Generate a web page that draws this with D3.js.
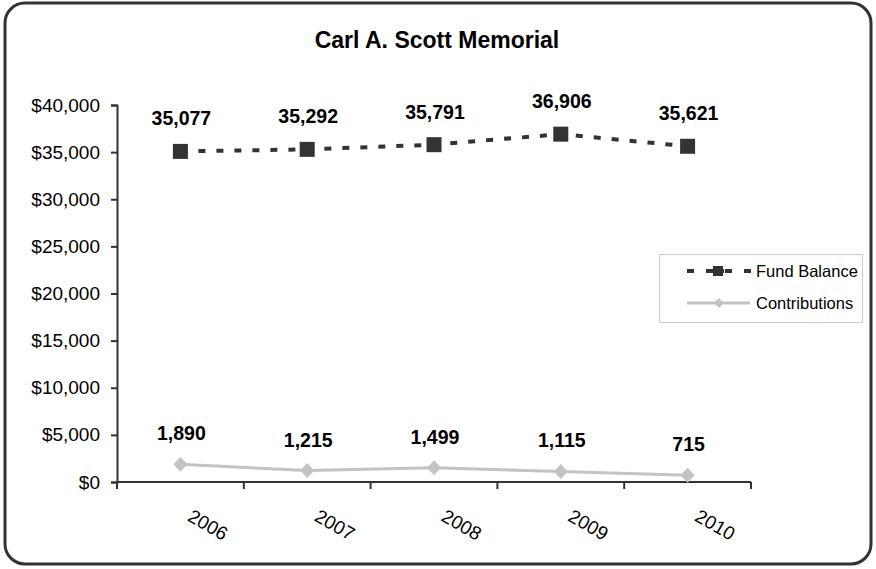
<!DOCTYPE html>
<html>
<head>
<meta charset="utf-8">
<script src="https://cdn.jsdelivr.net/npm/d3@7"></script>
<style>
  body { margin: 0; background: #fff; }
  text { font-family: "Liberation Sans", Arial, sans-serif; fill: #000; }
</style>
</head>
<body>
<script>
var years = ["2006", "2007", "2008", "2009", "2010"];
var fundBalance = [35077, 35292, 35791, 36906, 35621];
var contributions = [1890, 1215, 1499, 1115, 715];
var yTicks = [0, 5000, 10000, 15000, 20000, 25000, 30000, 35000, 40000];

var w = 876, h = 569;
var margin = {top: 105, right: 125, bottom: 87, left: 117};

var svg = d3.select('body').append('svg')
    .attr('width', w)
    .attr('height', h);

// outer rounded frame
svg.append('rect')
    .attr('x', 5).attr('y', 3)
    .attr('width', 866).attr('height', 561)
    .attr('rx', 20).attr('ry', 20)
    .attr('fill', '#fff')
    .attr('stroke', '#333')
    .attr('stroke-width', 3);

svg.append('text')
    .attr('x', 437).attr('y', 48)
    .attr('text-anchor', 'middle')
    .style('font-size', '23px')
    .style('font-weight', 'bold')
    .text('Carl A. Scott Memorial');

var g = svg.append('g')
    .attr('transform', 'translate(' + margin.left + ',' + margin.top + ')');

var pw = 751 - margin.left;
var ph = 482 - margin.top;

var xScale = d3.scaleBand().domain(years).range([0, pw]);
var yScale = d3.scaleLinear().domain([0, 40000]).range([ph, 0]);

// Y-axis
var yAxis = d3.axisLeft(yScale)
    .tickValues(yTicks)
    .tickSize(6)
    .tickFormat(function (d) { return '$' + d3.format(',')(d); });

var ya = g.append('g').call(yAxis);
ya.select('.domain').attr('stroke', '#333').attr('stroke-width', 2);
ya.selectAll('.tick line').attr('stroke', '#333').attr('stroke-width', 2);
ya.selectAll('.tick text')
    .attr('x', -17)
    .style('font-size', '19px')
    .style('font-family', '"Liberation Sans", Arial, sans-serif')
    .attr('fill', '#000');

// X-axis: ticks on band boundaries
var xa = g.append('g').attr('transform', 'translate(0,' + ph + ')');
xa.append('line')
    .attr('x1', 0).attr('x2', pw)
    .attr('stroke', '#333').attr('stroke-width', 2);
xa.selectAll('.xt')
    .data(d3.range(years.length + 1))
    .enter().append('line')
    .attr('x1', function (i) { return i * xScale.step(); })
    .attr('x2', function (i) { return i * xScale.step(); })
    .attr('y1', 0).attr('y2', 7)
    .attr('stroke', '#333').attr('stroke-width', 2);
xa.selectAll('.xl')
    .data(years)
    .enter().append('text')
    .attr('transform', function (d) {
        var x = xScale(d) + xScale.bandwidth() / 2 + 6;
        return 'translate(' + x + ',38) rotate(30)';
    })
    .style('font-size', '19px')
    .text(function (d) { return d; });

function cx(d, i) { return xScale(years[i]) + xScale.bandwidth() / 2; }

var line = d3.line()
    .x(function (d, i) { return cx(d, i); })
    .y(function (d) { return yScale(d); });

// Fund Balance
g.append('path')
    .datum(fundBalance)
    .attr('d', line)
    .attr('fill', 'none')
    .attr('stroke', '#333')
    .attr('stroke-width', 4)
    .attr('stroke-dasharray', '7,11');

g.selectAll('.fundPt')
    .data(fundBalance)
    .enter().append('rect')
    .attr('x', function (d, i) { return cx(d, i) - 7.5; })
    .attr('y', function (d) { return yScale(d) - 7.5; })
    .attr('width', 15).attr('height', 15)
    .attr('fill', '#333');

g.selectAll('.fundLbl')
    .data(fundBalance)
    .enter().append('text')
    .attr('x', function (d, i) { return cx(d, i) + 1; })
    .attr('y', function (d) { return yScale(d) - 26; })
    .attr('text-anchor', 'middle')
    .style('font-size', '19.5px')
    .style('font-weight', 'bold')
    .text(function (d) { return d3.format(',')(d); });

// Contributions
g.append('path')
    .datum(contributions)
    .attr('d', line)
    .attr('fill', 'none')
    .attr('stroke', '#c3c3c3')
    .attr('stroke-width', 3);

g.selectAll('.contPt')
    .data(contributions)
    .enter().append('path')
    .attr('transform', function (d, i) {
        return 'translate(' + cx(d, i) + ',' + yScale(d) + ')';
    })
    .attr('d', 'M0,-7.5L7,0L0,7.5L-7,0Z')
    .attr('fill', '#c3c3c3');

g.selectAll('.contLbl')
    .data(contributions)
    .enter().append('text')
    .attr('x', function (d, i) { return cx(d, i) + 1; })
    .attr('y', function (d) { return yScale(d) - 24; })
    .attr('text-anchor', 'middle')
    .style('font-size', '19.5px')
    .style('font-weight', 'bold')
    .text(function (d) { return d3.format(',')(d); });

// Legend
var legend = svg.append('g');
legend.append('rect')
    .attr('x', 659.5).attr('y', 254.5)
    .attr('width', 203).attr('height', 68)
    .attr('fill', '#fff')
    .attr('stroke', '#999')
    .attr('stroke-width', 1)
    .attr('stroke-dasharray', '1,1');

legend.append('line')
    .attr('x1', 687).attr('x2', 752)
    .attr('y1', 271).attr('y2', 271)
    .attr('stroke', '#333').attr('stroke-width', 4)
    .attr('stroke-dasharray', '7,12');
legend.append('line')
    .attr('x1', 707).attr('x2', 730)
    .attr('y1', 271).attr('y2', 271)
    .attr('stroke', '#333').attr('stroke-width', 4)
    .attr('stroke-dasharray', '6,1,10,1,6');
legend.append('rect')
    .attr('x', 713).attr('y', 266)
    .attr('width', 10).attr('height', 10)
    .attr('fill', '#333');
legend.append('text')
    .attr('x', 756).attr('y', 277)
    .style('font-size', '16.5px')
    .text('Fund Balance');

legend.append('line')
    .attr('x1', 687).attr('x2', 750)
    .attr('y1', 303).attr('y2', 303)
    .attr('stroke', '#c3c3c3').attr('stroke-width', 3);
legend.append('path')
    .attr('transform', 'translate(719,303)')
    .attr('d', 'M0,-5L5,0L0,5L-5,0Z')
    .attr('fill', '#c3c3c3');
legend.append('text')
    .attr('x', 756).attr('y', 309)
    .style('font-size', '16.5px')
    .text('Contributions');
</script>
</body>
</html>
